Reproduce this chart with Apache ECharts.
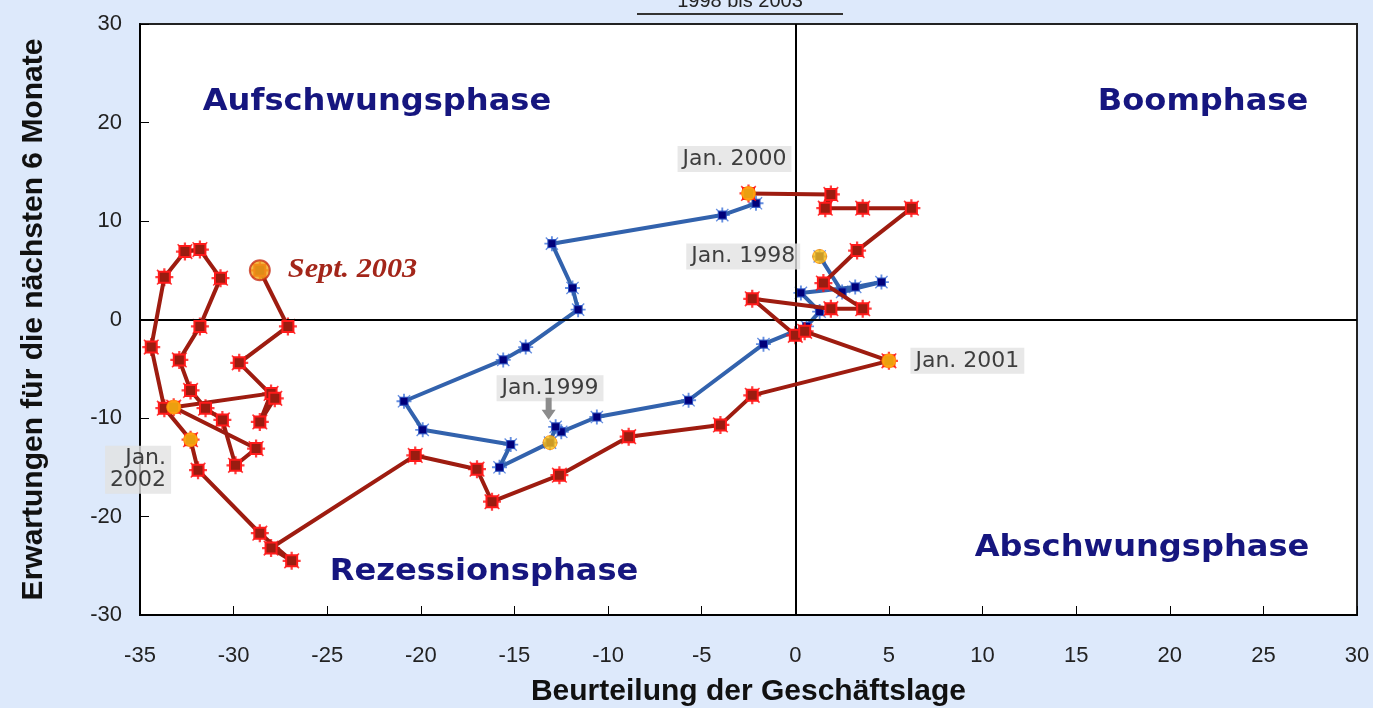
<!DOCTYPE html>
<html><head><meta charset="utf-8">
<script src="https://cdn.jsdelivr.net/npm/echarts/dist/echarts.min.js"></script>
<style>html,body{margin:0;padding:0;background:#dde9fb;} #c{width:1373px;height:708px;}</style>
</head><body><div id="c"></div>
<script>
// 1998-1999 (monthly): Beurteilung der Geschäftslage (x), Erwartungen (y)
const blueX = [1.3,2.5,4.6,3.2,0.3,1.3,0.6,-1.7,-5.7,-10.6,-12.5,-12.8, -13.1,-15.8,-15.2,-19.9,-20.9,-15.6,-14.4,-11.6,-11.9,-13.0,-3.9,-2.1];
const blueY = [6.4,2.8,3.8,3.3,2.7,0.8,-0.7,-2.5,-8.2,-9.9,-11.4,-10.9, -12.5,-15.0,-12.7,-11.2,-8.3,-4.1,-2.8,1.0,3.2,7.7,10.6,11.8];
// 2000 - Sept. 2003
const redX = [-2.5,1.9,1.6,3.6,6.2,3.3,1.5,3.6,1.9,-2.3,0.0,0.5, 5.0,-2.3,-4.0,-8.9,-12.6,-16.2,-17.0,-20.3,-28.0,-26.9,-28.6,-31.9, -32.3,-33.7,-34.4,-33.7,-32.6,-31.8,-30.7,-31.8,-32.9,-32.3,-31.5,-30.6, -29.9,-28.8,-33.2,-28.0,-28.6,-27.8,-29.7,-27.1,-28.6];
const redY = [12.8,12.7,11.3,11.3,11.3,7.0,3.7,1.1,1.1,2.1,-1.6,-1.2, -4.2,-7.7,-10.7,-11.9,-15.8,-18.5,-15.2,-13.8,-23.2,-24.5,-21.7,-15.3, -12.2,-9.0,-2.8,4.3,6.9,7.1,4.2,-0.7,-4.1,-7.2,-9.0,-10.2, -14.8,-13.1,-8.9,-7.5,-10.4,-8.0,-4.4,-0.7,5.0];
// highlighted January points
const janNames = ['Jan. 1998','Jan.1999','Jan. 2000','Jan. 2001','Jan.\n2002',''];
const janX = [1.3,-13.1,-2.5,5.0,-32.3,-33.2];
const janY = [6.4,-12.5,12.8,-4.2,-12.2,-8.9];
const lastName = 'Sept. 2003';
const lastX = -28.6, lastY = 5.0;
const phaseNames = ['Aufschwungsphase','Boomphase','Rezessionsphase','Abschwungsphase'];
const titleText = '1998 bis 2003';
const xName = 'Beurteilung der Geschäftslage';
const yName = 'Erwartungen für die nächsten 6 Monate';

const pts = (xs, ys) => xs.map((x, i) => [x, ys[i]]);
const spike = 'path://M7,0h2v16h-2Z M0,7h16v2h-16Z M1,2L2,1L15,14L14,15Z M14,1L15,2L2,15L1,14Z';

const labelBox = {fontFamily:'DejaVu Sans', fontSize:22, color:'#111', backgroundColor:'#e2e2e2', padding:[2,5]};
const janLabelCfg = [
  {position:'left', distance:12},
  {position:'top', distance:40, offset:[0,6]},
  {position:'top', distance:14, offset:[-14,0]},
  {position:'right', distance:14},
  {position:'left', distance:12, offset:[0,30]},
  {show:false}
];

const chart = echarts.init(document.getElementById('c'));
const phaseFont = 'bold 30px "DejaVu Sans"';
const option = {
  backgroundColor:'#dde9fb',
  animation:false,
  grid:{left:140, right:16, top:24, bottom:93, containLabel:false, outerBoundsMode:'none',
    show:true, backgroundColor:'#ffffff', borderColor:'#222', borderWidth:2},
  xAxis:{type:'value', min:-35, max:30, interval:5,
    axisLine:{onZero:false, lineStyle:{color:'#000', width:2}},
    axisTick:{inside:true, length:9, lineStyle:{color:'#000', width:1}},
    axisLabel:{margin:30, color:'#222', fontFamily:'Liberation Sans', fontSize:22},
    splitLine:{show:false},
    name:xName, nameLocation:'middle', nameGap:62,
    nameTextStyle:{fontFamily:'Liberation Sans', fontWeight:'bold', fontSize:30, color:'#111'}},
  yAxis:{type:'value', min:-30, max:30, interval:10,
    axisLine:{onZero:false, lineStyle:{color:'#000', width:2}},
    axisTick:{inside:true, length:9, lineStyle:{color:'#000', width:1}},
    axisLabel:{margin:18, color:'#222', fontFamily:'Liberation Sans', fontSize:22},
    splitLine:{show:false},
    name:yName, nameLocation:'middle', nameGap:91,
    nameTextStyle:{fontFamily:'Liberation Sans', fontWeight:'bold', fontSize:30, color:'#111'}},
  series:[
    {type:'line', data:[], silent:true, z:1,
      markLine:{silent:true, symbol:'none', label:{show:false}, lineStyle:{color:'#000', width:2, type:'solid'},
        data:[{xAxis:0},{yAxis:0}]}},
    {type:'scatter', data:pts(blueX, blueY), symbol:spike, symbolSize:15, itemStyle:{color:'#3d72d8'}, z:2, silent:true},
    {type:'line', data:pts(blueX, blueY), lineStyle:{color:'#3262ad', width:4}, symbol:'rect', symbolSize:8,
      itemStyle:{color:'#00007a', borderColor:'#2a50c0', borderWidth:1}, z:3, silent:true},
    {type:'scatter', data:pts(redX, redY), symbol:spike, symbolSize:18, itemStyle:{color:'#ff1010'}, z:4, silent:true},
    {type:'line', data:pts(redX, redY), lineStyle:{color:'#9e1c10', width:4}, symbol:'rect', symbolSize:11,
      itemStyle:{color:'#9a1c10', borderColor:'#ff1a1a', borderWidth:2}, z:5, silent:true},
    {type:'scatter', z:6, silent:true, symbol:'circle', symbolSize:14,
      itemStyle:{color:'#ffc010', borderColor:'#ff9000', borderWidth:1},
      data:janX.map((x,i)=>({value:[x, janY[i]], name:janNames[i],
        label:Object.assign({show:true, formatter:'{b}'}, labelBox, janLabelCfg[i])}))},
    {type:'scatter', z:7, silent:true, symbol:'circle', symbolSize:20,
      itemStyle:{color:'#f0a818', borderColor:'#c83018', borderWidth:2},
      data:[{value:[lastX, lastY], name:lastName}]}
  ],
  graphic:[
    {type:'text', x:740, y:11, style:{text:titleText, textAlign:'center', textVerticalAlign:'bottom',
      font:'20px "Liberation Sans"', fill:'#222'}, z:10},
    {type:'line', shape:{x1:637, y1:14, x2:843, y2:14}, style:{stroke:'#333', lineWidth:2}, z:10},
    {type:'text', x:377, y:102, scaleX:1.07, style:{text:phaseNames[0], textAlign:'center', textVerticalAlign:'middle', font:phaseFont, fill:'#16167f'}, z:10},
    {type:'text', x:1203, y:102, scaleX:1.07, style:{text:phaseNames[1], textAlign:'center', textVerticalAlign:'middle', font:phaseFont, fill:'#16167f'}, z:10},
    {type:'text', x:484, y:572, scaleX:1.07, style:{text:phaseNames[2], textAlign:'center', textVerticalAlign:'middle', font:phaseFont, fill:'#16167f'}, z:10},
    {type:'text', x:1142, y:548, scaleX:1.07, style:{text:phaseNames[3], textAlign:'center', textVerticalAlign:'middle', font:phaseFont, fill:'#16167f'}, z:10}
  ]
};
chart.setOption(option);
// arrow from the Jan.1999 label towards the December 1998 point, and the Sept. 2003 caption
const tip = chart.convertToPixel({gridIndex:0}, [blueX[11], blueY[11]]);
const ax = tip[0] - 7, ay = tip[1] - 7;
const lp = chart.convertToPixel({gridIndex:0}, [lastX, lastY]);
chart.setOption({graphic:option.graphic.concat([
  {type:'polygon', shape:{points:[[ax-3,ay-22],[ax+3,ay-22],[ax+3,ay-10],[ax+7,ay-10],[ax,ay],[ax-7,ay-10],[ax-3,ay-10]]},
   style:{fill:'#8c8c8c'}, z:10},
  {type:'text', x:lp[0] + 28, y:lp[1], scaleX:1.12, z:10,
   style:{text:lastName, textAlign:'left', textVerticalAlign:'middle',
     font:'italic bold 27px "Liberation Serif"', fill:'#a3261a'}}
])});
</script></body></html>
